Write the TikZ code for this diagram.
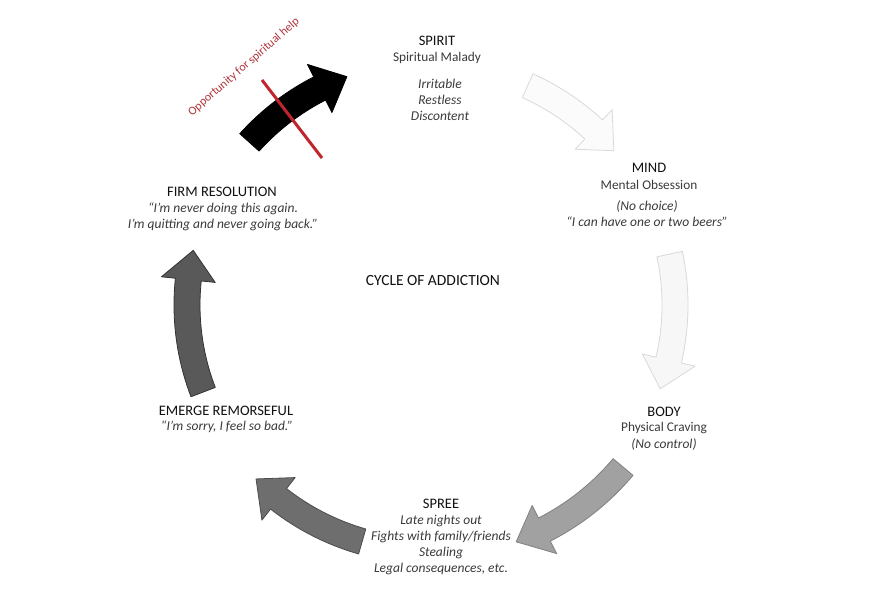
\documentclass[tikz,border=0pt]{standalone}
\usepackage{fontspec}
\setmainfont{Carlito}
\definecolor{subgray}{HTML}{3A3A3A}
\definecolor{headblack}{HTML}{111111}
\definecolor{oppred}{HTML}{B0353B}
\definecolor{linered}{HTML}{C0262D}
\newcommand{\cyclearrow}[5]{%
  \pgfmathsetmacro{\hb}{#2-7}%
  \pgfmathsetmacro{\ri}{#3-13}%
  \pgfmathsetmacro{\ro}{#3+13}%
  \pgfmathsetmacro{\hi}{#3-27}%
  \pgfmathsetmacro{\ho}{#3+27}%
  \filldraw[fill=#4, draw=#5, line width=0.8pt, line join=round]
    (#1:\ri) arc[start angle=#1, end angle=\hb, radius=\ri]
    -- (\hb:\hi) -- (#2:#3) -- (\hb:\ho)
    -- (\hb:\ro) arc[start angle=\hb, end angle=#1, radius=\ro] -- cycle;
}
\begin{document}
\begin{tikzpicture}[x=1pt,y=-1pt,
  head/.style={font=\fontsize{14.5}{17}\selectfont, text=headblack, inner sep=0pt},
  sub/.style={font=\fontsize{13.3}{16}\selectfont, text=subgray, inner sep=0pt},
  ital/.style={font=\fontsize{13.5}{16}\selectfont\itshape, text=subgray, inner sep=0pt, align=center}]
\useasboundingbox (0,0) rectangle (875,599);
\fill[white] (0,0) rectangle (875,599);
\begin{scope}[shift={(430,305)}]
  \cyclearrow{-66}{-40}{240}{gray!3}{gray!30}
  \cyclearrow{-12}{20}{245}{gray!6}{gray!30}
  \cyclearrow{40}{70}{252}{black!37}{black!50}
  \cyclearrow{106}{135}{246}{black!57}{black!70}
  \cyclearrow{159}{193}{243}{black!65}{black!80}
  \cyclearrow{222}{250}{243}{black}{black}
\end{scope}
% red strike line
\coordinate (r1) at (262,80);
\coordinate (r2) at (322,158);
\draw[linered, line width=3pt] (r1) -- (r2);
\node[text=oppred, font=\fontsize{12}{14}\selectfont, rotate=41, inner sep=0pt] (opp) at (244,67) {Opportunity for spiritual help};
% SPIRIT
\node[head] (spirit) at (437,41) {SPIRIT};
\node[sub] (spiritsub) at (437,58) {Spiritual Malady};
\node[ital] (spiritlist) at (440,100) {Irritable\\Restless\\Discontent};
% MIND
\node[head] (mind) at (649,168) {MIND};
\node[sub] (mindsub) at (649,185) {Mental Obsession};
\node[ital] (mindlist) at (647,213.5) {(No choice)\\“I can have one or two beers”};
% BODY
\node[head] (body) at (664,412) {BODY};
\node[sub] (bodysub) at (664,428) {Physical Craving};
\node[ital] (bodylist) at (664,444) {(No control)};
% SPREE
\node[head] (spree) at (441,504) {SPREE};
\node[ital] (spreelist) at (441,545) {Late nights out\\Fights with family/friends\\Stealing\\Legal consequences, etc.};
% EMERGE
\node[head] (emerge) at (226,411) {EMERGE REMORSEFUL};
\node[ital] (emergelist) at (227,427) {“I’m sorry, I feel so bad.”};
% FIRM
\node[head] (firm) at (222,192) {FIRM RESOLUTION};
\node[ital] (firmlist) at (223,217) {“I’m never doing this again.\\I’m quitting and never going back.”};
% center
\node[head, font=\fontsize{15.5}{18}\selectfont] (cycle) at (433,281) {CYCLE OF ADDICTION};
\end{tikzpicture}
\end{document}
